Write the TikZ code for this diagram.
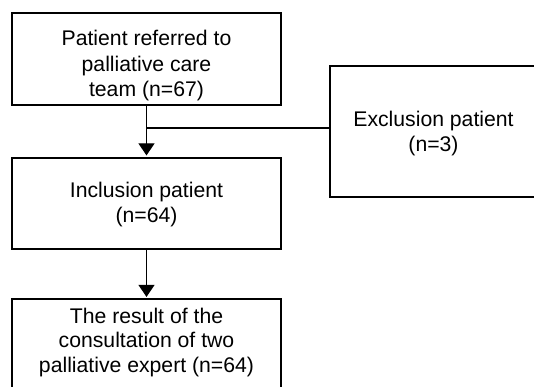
\documentclass[tikz,border=0pt]{standalone}
\usepackage{fontspec}
\setmainfont{Liberation Sans}
\usetikzlibrary{arrows.meta}
\tikzset{
  box/.style={draw=black, line width=1.2pt, rectangle, inner sep=0pt, fill=white},
  txt/.style={anchor=base, inner sep=0pt, font=\fontsize{21.2}{25}\selectfont},
  conn/.style={draw=black, line width=1.2pt},
  arr/.style={conn, -{Triangle[width=16pt,length=12pt]}}
}
\begin{document}
\begin{tikzpicture}[x=1pt,y=-1pt]
\useasboundingbox (0,0) rectangle (534,387);
\clip (0,0) rectangle (534,387);
% boxes
\node[box, minimum width=269pt, minimum height=92pt] (b1) at (146.5,59) {};
\node[box, minimum width=269pt, minimum height=91pt] (b2) at (146.5,203.5) {};
\node[box, minimum width=269pt, minimum height=101pt] (b3) at (146.5,349.5) {};
\node[box, minimum width=230pt, minimum height=131pt] (ex) at (445,131.5) {};
% texts
\node[txt] (t1a) at (146.5,46) {Patient referred to};
\node[txt] (t1b) at (146.5,71.5) {palliative care};
\node[txt] (t1c) at (146.5,97) {team (n=67)};
\node[txt] (t2a) at (146.5,197) {Inclusion patient};
\node[txt] (t2b) at (146.5,222) {(n=64)};
\node[txt] (t3a) at (146.5,323) {The result of the};
\node[txt] (t3b) at (146.5,347.5) {consultation of two};
\node[txt] (t3c) at (146.5,372) {palliative expert (n=64)};
\node[txt] (exa) at (433.5,127) {Exclusion patient};
\node[txt] (exb) at (433.5,152) {(n=3)};
% connectors
\coordinate (j) at (146.5,128);
\draw[arr, shorten >=2pt] (b1.south) -- (b2.north);
\draw[conn] (j) -- (j -| ex.west);
\draw[arr, shorten >=1.5pt] (b2.south) -- (b3.north);
\end{tikzpicture}
\end{document}
